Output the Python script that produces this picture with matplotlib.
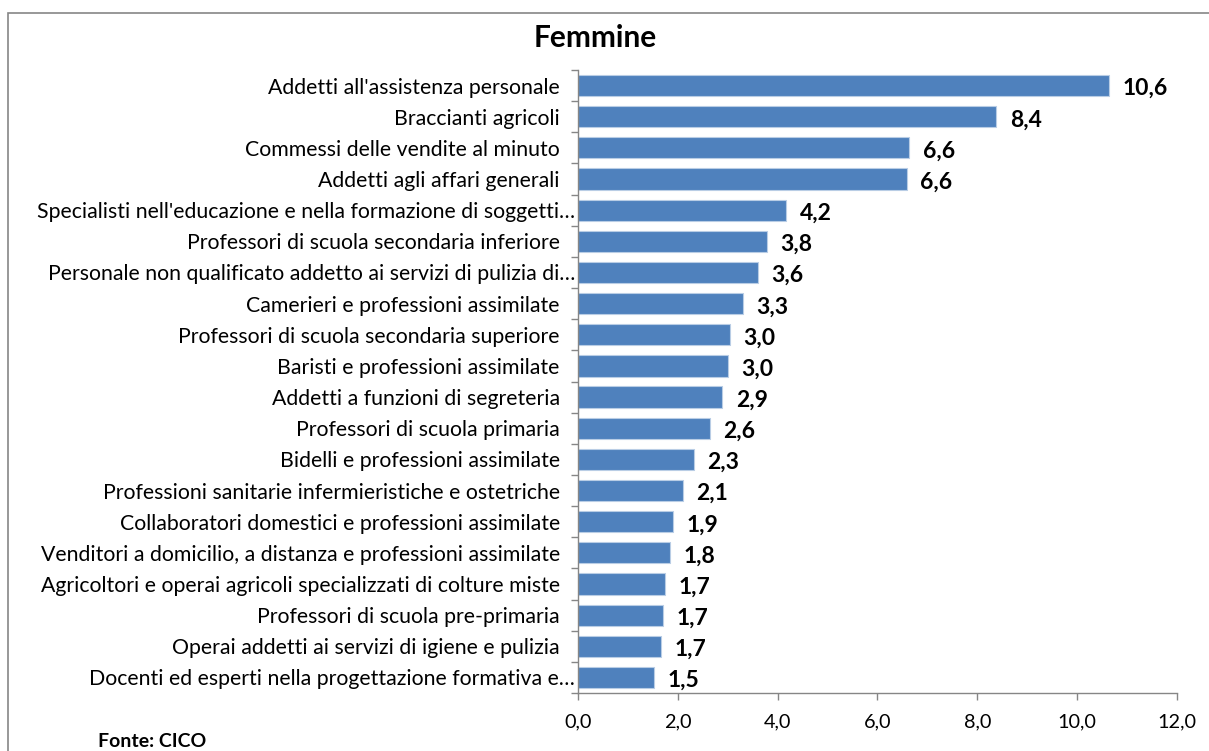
import matplotlib.pyplot as plt
from matplotlib.patches import Rectangle
from matplotlib.transforms import ScaledTranslation

categories = [
    "Addetti all'assistenza personale",
    "Braccianti agricoli",
    "Commessi delle vendite al minuto",
    "Addetti agli affari generali",
    "Specialisti nell'educazione e nella formazione di soggetti\u2026",
    "Professori di scuola secondaria inferiore",
    "Personale non qualificato addetto ai servizi di pulizia di\u2026",
    "Camerieri e professioni assimilate",
    "Professori di scuola secondaria superiore",
    "Baristi e professioni assimilate",
    "Addetti a funzioni di segreteria",
    "Professori di scuola primaria",
    "Bidelli e professioni assimilate",
    "Professioni sanitarie infermieristiche e ostetriche",
    "Collaboratori domestici e professioni assimilate",
    "Venditori a domicilio, a distanza e professioni assimilate",
    "Agricoltori e operai agricoli specializzati di colture miste",
    "Professori di scuola pre-primaria",
    "Operai addetti ai servizi di igiene e pulizia",
    "Docenti ed esperti nella progettazione formativa e\u2026",
]
values = [10.64, 8.38, 6.64, 6.59, 4.17, 3.78, 3.60, 3.31, 3.04, 3.01,
          2.89, 2.64, 2.32, 2.10, 1.90, 1.84, 1.74, 1.70, 1.66, 1.53]
xticks = [0, 2, 4, 6, 8, 10, 12]

plt.rcParams['font.family'] = ['Lato', 'DejaVu Sans']

fig = plt.figure(figsize=(12.09, 7.51), dpi=100)
ax = fig.add_axes([0.478, 0.0772, 0.4956, 0.8296])

pos = list(range(len(categories)))[::-1]
ax.barh(pos, values, height=0.68, color='#4f81bd', edgecolor='#b9cde5',
        linewidth=0.8, zorder=2)
for p, v in zip(pos, values):
    ax.text(v + 0.27, p - 0.1, '{:.1f}'.format(v).replace('.', ','),
            va='center', ha='left', fontsize=16.5, fontweight='bold')

ax.set_xlim(0, 12)
ax.set_ylim(-0.5, len(categories) - 0.5)
ax.set_xticks(xticks)
ax.set_xticklabels(['{:.1f}'.format(t).replace('.', ',') for t in xticks],
                   fontsize=14.3)
ax.set_yticks(pos)
ax.set_yticklabels(categories, fontsize=15.3)
ax.set_yticks([p + 0.5 for p in range(-1, len(categories))], minor=True)
ax.tick_params(axis='y', which='major', length=0, pad=13)
ax.tick_params(axis='y', which='minor', length=5, color='#868686', width=1)
ax.tick_params(axis='x', length=5, color='#868686', width=1, pad=10)

# truncated labels sit closer to the axis
shift = ScaledTranslation(0.15, 0, fig.dpi_scale_trans)
for lab in ax.get_yticklabels():
    if lab.get_text().endswith('\u2026'):
        lab.set_transform(lab.get_transform() + shift)

for s in ['top', 'right']:
    ax.spines[s].set_visible(False)
for s in ['left', 'bottom']:
    ax.spines[s].set_color('#868686')
    ax.spines[s].set_linewidth(1)

fig.text(0.492, 0.949, 'Femmine', ha='center', va='center',
         fontsize=21.5, fontweight='bold')
fig.text(0.081, 0.013, 'Fonte: CICO', ha='left', va='center',
         fontsize=14, fontweight='bold')

fig.patches.append(Rectangle((8 / 1209, -0.1), 1.2, 1 - 13 / 751 + 0.1,
                             transform=fig.transFigure, fill=False,
                             edgecolor='#868686', linewidth=1.2))

plt.savefig('out.png', dpi=100)
